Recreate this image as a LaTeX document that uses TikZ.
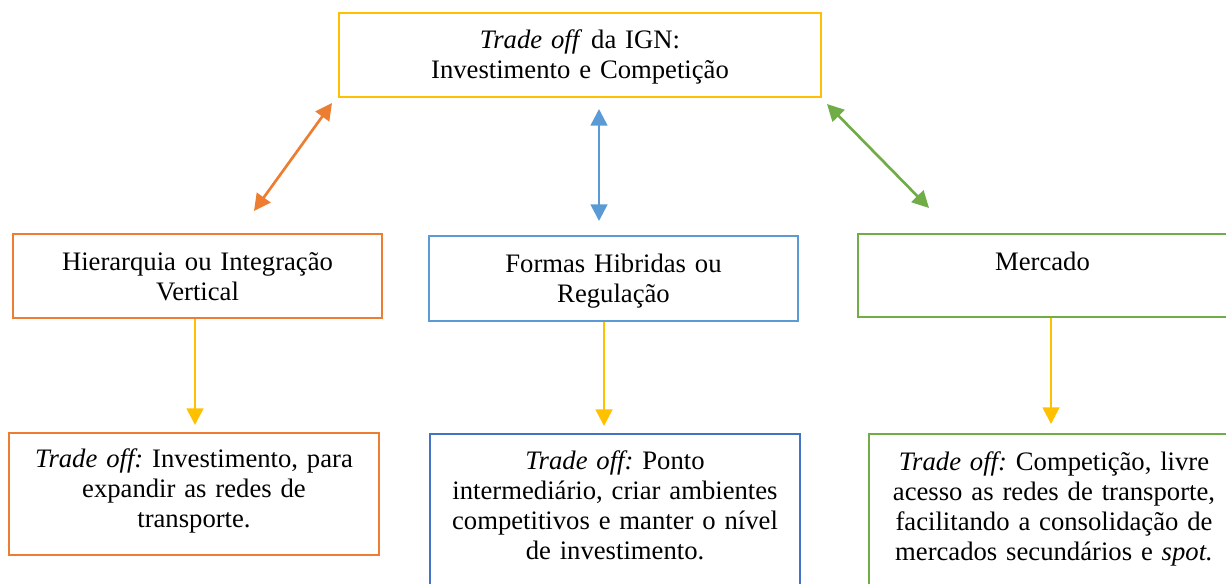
\documentclass[tikz,border=0pt]{standalone}
\usepackage{fontspec}
\setmainfont{Liberation Serif}
\usetikzlibrary{arrows.meta}
\definecolor{cOr}{HTML}{ED7D31}
\definecolor{cBl}{HTML}{5B9BD5}
\definecolor{cGr}{HTML}{70AD47}
\definecolor{cYe}{HTML}{FFC000}
\definecolor{cDb}{HTML}{4472C4}
\frenchspacing
\begin{document}
\begin{tikzpicture}[x=0.75pt,y=-0.75pt,
  box/.style={draw=#1,line width=2pt,rectangle,inner sep=0pt},
  txt/.style={anchor=base,align=center,text width=#1,inner sep=0pt,font=\fontsize{20}{22.5}\selectfont},
  dbl/.style={draw=#1,line width=2pt,{Triangle[length=12.5pt,width=12.5pt]}-{Triangle[length=12.5pt,width=12.5pt]}},
  sgl/.style={draw=cYe,line width=2pt,-{Triangle[length=12.5pt,width=12.5pt]}}]
\useasboundingbox (0,0) rectangle (1226,583);
\clip (0,0) rectangle (1226,583);
% top box
\node[box=cYe, minimum width=361.5pt, minimum height=63pt] (top) at (580,55) {};
\node[txt=350pt] (toptxt) at (580,48) {\textit{Trade off} da IGN:\\Investimento e Competição};
% middle row
\node[box=cOr, minimum width=276.75pt, minimum height=63pt] (hier) at (197.5,276) {};
\node[txt=265pt] (hiertxt) at (197.5,270) {Hierarquia ou Integração\\Vertical};
\node[box=cBl, minimum width=276.75pt, minimum height=63.75pt] (hib) at (613.5,278.5) {};
\node[txt=265pt] (hibtxt) at (613.5,272) {Formas Hibridas ou\\Regulação};
\node[box=cGr, minimum width=276.75pt, minimum height=62.25pt] (merc) at (1042.5,275.5) {};
\node[txt=265pt] (merctxt) at (1042.5,270) {Mercado};
% bottom row
\node[box=cOr, minimum width=277.5pt, minimum height=91.5pt] (bl) at (194,494) {};
\node[txt=270pt] (bltxt) at (194,467) {\textit{Trade off:} Investimento, para\\expandir as redes de\\transporte.};
\node[box=cDb, minimum width=277.5pt, minimum height=120pt] (bm) at (615,514) {};
\node[txt=270pt] (bmtxt) at (615,469) {\textit{Trade off:} Ponto\\intermediário, criar ambientes\\competitivos e manter o nível\\de investimento.};
\node[box=cGr, minimum width=277.5pt, minimum height=120pt] (br) at (1054,514) {};
\node[txt=270pt] (brtxt) at (1054,470) {\textit{Trade off:} Competição, livre\\acesso as redes de transporte,\\facilitando a consolidação de\\mercados secundários e \textit{spot.}};
% double arrows
\coordinate (oA) at (332,103); \coordinate (oB) at (254,211);
\coordinate (bA) at (599,109); \coordinate (bB) at (599,221);
\coordinate (gA) at (827,104); \coordinate (gB) at (929,208);
\draw[dbl=cOr] (oA) -- (oB);
\draw[dbl=cBl] (bA) -- (bB);
\draw[dbl=cGr] (gA) -- (gB);
% yellow arrows
\coordinate (y1) at (195,425);
\coordinate (y2) at (604,426);
\coordinate (y3) at (1051,424);
\draw[sgl] (hier.south -| y1) -- (y1);
\draw[sgl] (hib.south -| y2) -- (y2);
\draw[sgl] (merc.south -| y3) -- (y3);
\end{tikzpicture}
\end{document}
